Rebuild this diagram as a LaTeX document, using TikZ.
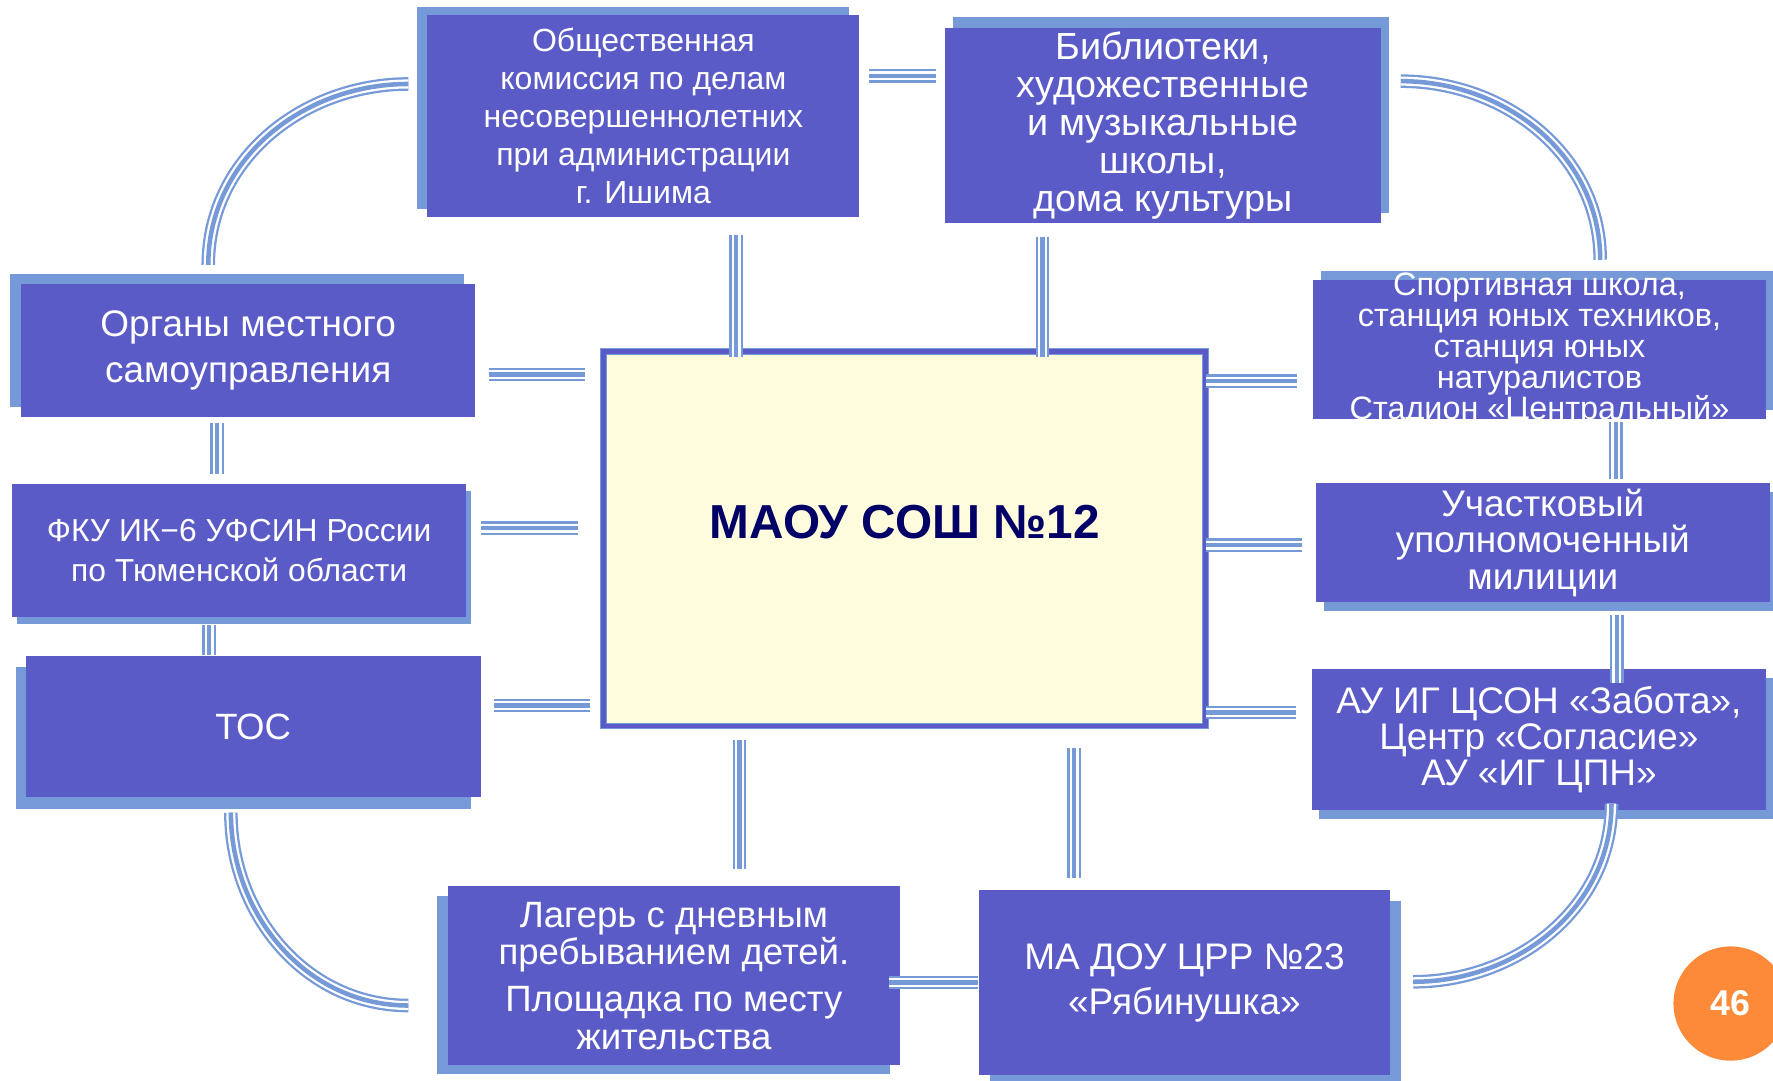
\documentclass[tikz,border=0pt]{standalone}
\usepackage{fontspec}
\setmainfont{Liberation Sans}
\usepackage{xcolor}
\usepackage{tikz}
\usetikzlibrary{calc,shadows}
\definecolor{boxblue}{RGB}{91,91,199}
\definecolor{shadowblue}{RGB}{118,153,216}
\definecolor{cream}{RGB}{255,251,221}
\definecolor{navy}{RGB}{0,0,102}
\definecolor{pageorange}{RGB}{253,138,56}
\newcommand\tightlines{\lineskiplimit=-10pt\relax}
\tikzset{
  box/.style={fill=boxblue, text=white, align=center, inner sep=0pt},
  backing/.style 2 args={general shadow={fill=shadowblue, shadow xshift=#1, shadow yshift=#2}},
  hub/.style={draw=shadowblue, double=boxblue, line width=0.25pt, double distance=1.2pt, fill=cream, text=navy, inner sep=0pt, font=\bfseries\fontsize{12}{14}\selectfont},
  tri/.style={draw=shadowblue, line width=0.12cm, postaction={draw=white, line width=0.08cm}, postaction={draw=shadowblue, line width=0.04cm}},
  pagenum/.style={circle, fill=pageorange, text=white, inner sep=0pt, minimum size=1.01cm, font=\bfseries\fontsize{9}{11}\selectfont},
}

\begin{document}
\begin{tikzpicture}[x=0.01cm, y=-0.01cm]
  \useasboundingbox (0,0) rectangle (1568,956);
  \node[box, backing={-0.09cm}{0.07cm}, minimum width=3.82cm, minimum height=1.79cm, font=\fontsize{8.05}{9.6}\selectfont] (obsh) at (569,102.5)
    {Общественная\\ комиссия по делам\\ несовершеннолетних\\ при администрации\\ г. Ишима};
  \node[box, backing={0.07cm}{0.09cm}, minimum width=3.85cm, minimum height=1.73cm, font=\fontsize{9.5}{9.6}\selectfont] (bibl) at (1028.5,111)
    {Библиотеки,\\ художественные\\ и музыкальные\\ школы,\\ дома культуры};
  \node[box, backing={-0.10cm}{0.09cm}, minimum width=4.01cm, minimum height=1.18cm, font=\fontsize{9.3}{11.4}\selectfont] (organy) at (219.5,310)
    {Органы местного\\ самоуправления};
  \node[box, backing={0.04cm}{-0.06cm}, minimum width=4.01cm, minimum height=1.18cm, font=\fontsize{8}{10}\selectfont] (fku) at (211.5,487)
    {ФКУ ИК−6 УФСИН России\\ по Тюменской области};
  \node[box, backing={-0.09cm}{-0.10cm}, minimum width=4.02cm, minimum height=1.25cm, font=\fontsize{9.2}{11}\selectfont] (tos) at (224,642.5)
    {ТОС};
  \node[box, backing={0.07cm}{0.08cm}, minimum width=4.01cm, minimum height=1.23cm, inner ysep=-0.08cm, font=\fontsize{8.15}{7.8}\selectfont\tightlines] (sport) at (1361.5,309)
    {Спортивная школа,\\ станция юных техников,\\ станция юных\\ натуралистов\\ Стадион «Центральный»};
  \node[box, backing={0.07cm}{-0.08cm}, minimum width=4.01cm, minimum height=1.05cm, font=\fontsize{9.3}{9.25}\selectfont] (uchast) at (1364.5,480)
    {Участковый\\ уполномоченный\\ милиции};
  \node[box, backing={0.07cm}{-0.08cm}, minimum width=4.02cm, minimum height=1.24cm, font=\fontsize{9.3}{9}\selectfont] (zabota) at (1361,654)
    {АУ ИГ ЦСОН «Забота»,\\ Центр «Согласие»\\ АУ «ИГ ЦПН»};
  \node[box, backing={-0.09cm}{-0.08cm}, minimum width=4.00cm, minimum height=1.58cm, font=\fontsize{9.2}{9.4}\selectfont] (lager) at (596,863)
    {Лагерь с дневным\\ пребыванием детей.\\[2.5pt] Площадка по месту\\ жительства};
  \node[box, backing={0.10cm}{-0.10cm}, minimum width=3.63cm, minimum height=1.64cm, font=\fontsize{9.3}{11.4}\selectfont] (dou) at (1047.5,869)
    {МА ДОУ ЦРР №23\\ «Рябинушка»};
  \node[hub, minimum width=5.32cm, minimum height=3.31cm] (mid) at (800,476.5) {\smash{МАОУ СОШ №12}};
  \node[pagenum] (page) at (1530.5,887.5) {46};

  \draw[tri] ($(obsh.east |- 0,67)+(8,0)$) -- ($(bibl.west |- 0,67)+(-7,0)$);
  \draw[tri] ($(obsh.south -| 651,0)+(0,15)$) -- ($(mid.north -| 651,0)+(0,5)$);
  \draw[tri] ($(bibl.south -| 922,0)+(0,11)$) -- ($(mid.north -| 922,0)+(0,5)$);
  \draw[tri] ($(organy.east |- 0,331)+(12,0)$) -- ($(mid.west |- 0,331)+(-16,0)$);
  \draw[tri] ($(fku.east |- 0,467)+(13,0)$) -- ($(mid.west |- 0,467)+(-22,0)$);
  \draw[tri] ($(tos.east |- 0,624)+(11,0)$) -- ($(mid.west |- 0,624)+(-12,0)$);
  \draw[tri] ($(organy.south -| 192,0)+(0,4)$) -- ($(fku.north -| 192,0)+(0,-8)$);
  \draw[tri] ($(fku.south -| 185,0)+(0,6)$) -- (tos.north -| 185,0);
  \draw[tri] (mid.east |- 0,337) -- ($(sport.west |- 0,337)+(-13,0)$);
  \draw[tri] (mid.east |- 0,482) -- ($(uchast.west |- 0,482)+(-12,0)$);
  \draw[tri] (mid.east |- 0,630) -- ($(zabota.west |- 0,630)+(-13,0)$);
  \draw[tri] ($(sport.south -| 1429,0)+(0,2)$) -- ($(uchast.north -| 1429,0)+(0,-3)$);
  \draw[tri] ($(uchast.south -| 1430,0)+(0,11)$) -- ($(zabota.north -| 1430,0)+(0,13)$);
  \draw[tri] ($(mid.south -| 654,0)+(0,12)$) -- ($(lager.north -| 654,0)+(0,-15)$);
  \draw[tri] ($(mid.south -| 950,0)+(0,19)$) -- ($(dou.north -| 950,0)+(0,-10)$);
  \draw[tri] ($(lager.east |- 0,869)+(-11,0)$) -- (dou.west |- 0,869);
  \draw[tri] ($(obsh.north west)+(-16,62)$) to[out=180, in=90] ($(organy.north west)+(166,-16)$);
  \draw[tri] ($(bibl.north east)+(17,48)$) to[out=0, in=90] ($(sport.north west)+(255,-17)$);
  \draw[tri] ($(tos.south west)+(182,13)$) to[out=-90, in=180] ($(lager.north west)+(-34,106)$);
  \draw[tri] ($(zabota.south west)+(266,-6)$) to[out=-90, in=0] ($(dou.north east)+(20,82)$);
\end{tikzpicture}
\end{document}
